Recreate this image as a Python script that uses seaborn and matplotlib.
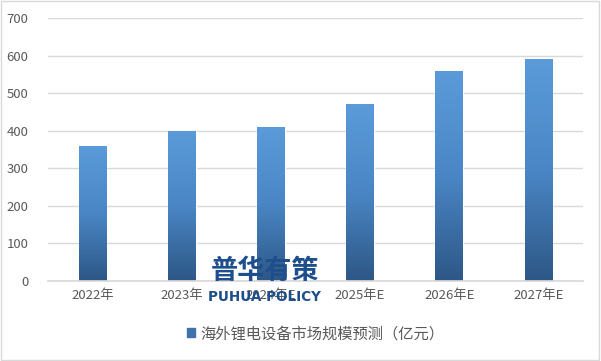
import numpy as np
import pandas as pd
import matplotlib
matplotlib.use("Agg")
import matplotlib.pyplot as plt
import seaborn as sns
from matplotlib.colors import LinearSegmentedColormap
from matplotlib.patches import Rectangle

# Data
years = ["2022年", "2023年", "2024年E", "2025年E", "2026年E", "2027年E"]
market_size = [360, 400, 410, 470, 560, 590]
series_name = "海外锂电设备市场规模预测（亿元）"

sns.set_theme(style="white")
plt.rcParams["font.family"] = ["Noto Sans CJK SC", "DejaVu Sans"]

df = pd.DataFrame({"year": years, "value": market_size})

fig = plt.figure(figsize=(6.01, 3.61), dpi=100)
ax = fig.add_axes([48 / 601, 1 - 281 / 361, 535 / 601, 263 / 361])

sns.barplot(data=df, x="year", y="value", ax=ax, width=0.31,
            color="#4A86C5", saturation=1)

# vertical gradient on each bar
grad_cmap = LinearSegmentedColormap.from_list("g", ["#2D5786", "#4A86C5", "#5B9BD9"])
grad = np.linspace(0, 1, 256).reshape(-1, 1)
for bar in ax.patches:
    x0, w, h = bar.get_x(), bar.get_width(), bar.get_height()
    im = ax.imshow(grad, cmap=grad_cmap, aspect="auto", origin="lower",
                   extent=[x0, x0 + w, 0, h], zorder=bar.get_zorder() + 0.1)
    im.set_clip_path(bar)

ax.set_xlim(-0.5, len(years) - 0.5)
ax.set_ylim(0, 700)
ax.set_yticks(range(0, 701, 100))
ax.yaxis.grid(True, color="#D9D9D9", linewidth=1)
ax.set_axisbelow(True)
for s in ["top", "right", "left"]:
    ax.spines[s].set_visible(False)
ax.spines["bottom"].set_color("#D9D9D9")
ax.set_xlabel("")
ax.set_ylabel("")
ax.tick_params(axis="both", length=0, labelsize=9.5, colors="#595959")
ax.tick_params(axis="y", pad=14)
ax.tick_params(axis="x", pad=6)

# legend
ax.legend(handles=[Rectangle((0, 0), 1, 1, color="#3E72AA")], labels=[series_name],
          loc="center", bbox_to_anchor=(0.5, -0.2), frameon=False,
          fontsize=11, handlelength=0.55, handleheight=0.55, handletextpad=0.3,
          labelcolor="#595959")

# watermark
fig.text(265 / 601, 1 - 271 / 361, "普华有策", fontsize=19.5, fontweight="bold",
         color="#1F4E8C", ha="center", va="center")
fig.text(264 / 601, 1 - 297 / 361, "PUHUA POLICY", fontsize=9.8, fontweight="bold",
         color="#1F4E8C", ha="center", va="center", family="DejaVu Sans")

# outer border
fig.patches.append(Rectangle((0.002, 0.003), 0.995, 0.993, transform=fig.transFigure,
                             fill=False, edgecolor="#D9D9D9", linewidth=1))

fig.savefig("out.png", dpi=100)
